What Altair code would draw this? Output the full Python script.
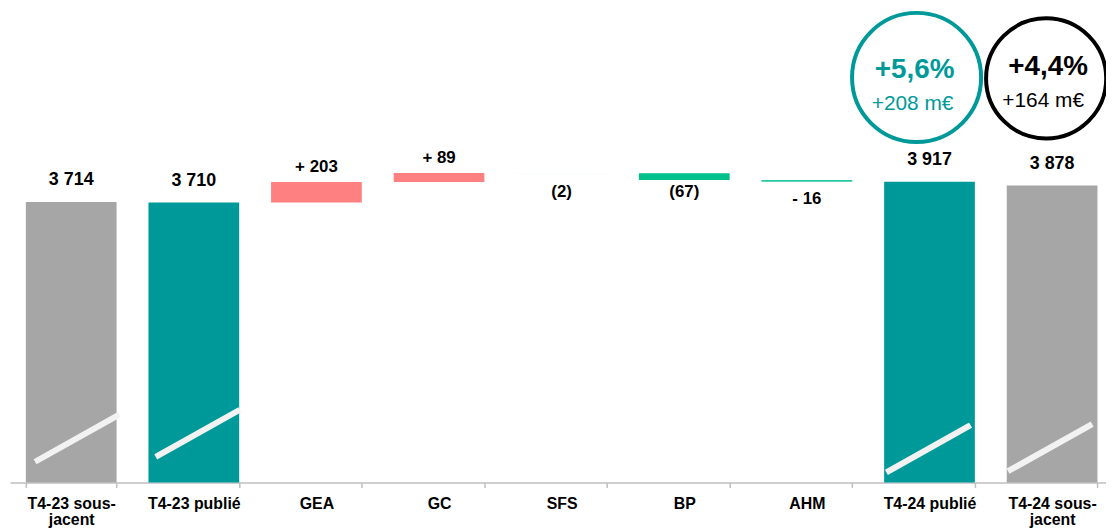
import altair as alt
import pandas as pd

# ---- data ----
categories = ["T4-23 sous-jacent", "T4-23 publié", "GEA", "GC", "SFS", "BP", "AHM",
              "T4-24 publié", "T4-24 sous-jacent"]
kinds = ["total", "total", "delta", "delta", "delta", "delta", "delta", "total", "total"]
values = [3714, 3710, 203, 89, -2, -67, -16, 3917, 3878]
labels = ["3 714", "3 710", "+ 203", "+ 89", "(2)", "(67)", "- 16", "3 917", "3 878"]
colors = ["#a6a6a6", "#009999", "#ff8080", "#ff8080", "#dcf5ee", "#00c08b", "#26c6a0",
          "#009999", "#a6a6a6"]

# broken-axis slash marks (on total bars)
slash_cats = ["T4-23 sous-jacent", "T4-23 publié", "T4-24 publié", "T4-24 sous-jacent"]
slash_y = [1370, 1418, 1265, 1276]
slash_dx = [6, 4, -1, -2]          # shift from bar centre (px)

# circled annotations
ann_cats = ["T4-24 publié", "T4-24 sous-jacent"]
ann_circle_y = [4952, 4942]
ann_circle_dx = [-13, -6]          # shift from bar centre (px)
ann_size = [16900, 14641]
ann_color = ["#009999", "#000000"]
ann_pct = ["+5,6%", "+4,4%"]
ann_pct_y = [4942, 4979]
ann_pct_dx = [-15, -4]
ann_abs = ["+208 m€", "+164 m€"]
ann_abs_y = [4627, 4656]
ann_abs_dx = [-17, -9]

WIDTH = 1104
P_IN, P_OUT, ALIGN = 0.26, 0.0995, 0.65
STEP = WIDTH / (len(categories) - P_IN + 2 * P_OUT)
HALF_BAND = STEP * (1 - P_IN) / 2   # xOffset is measured from band start

# ---- waterfall table ----
rows = []
run = 0
for c, k, v, lab, col in zip(categories, kinds, values, labels, colors):
    if k == "total":
        start, end = 0, v
        run = v
    else:
        start, end = run, run + v
        run = end
    rows.append(dict(cat=c, kind=k, start=start, end=end, top=max(start, end),
                     bottom=min(start, end), label=lab, color=col, val=v))
df = pd.DataFrame(rows)

slash_df = pd.DataFrame(dict(cat=slash_cats, y=slash_y, dx=[d + HALF_BAND for d in slash_dx]))
ann_df = pd.DataFrame(dict(cat=ann_cats, cy=ann_circle_y,
                           cdx=[d + HALF_BAND for d in ann_circle_dx], size=ann_size,
                           color=ann_color, pct=ann_pct, pct_y=ann_pct_y,
                           pct_dx=[d + HALF_BAND for d in ann_pct_dx],
                           abs=ann_abs, abs_y=ann_abs_y,
                           abs_dx=[d + HALF_BAND for d in ann_abs_dx]))

FONT = "Liberation Sans"
xscale = alt.Scale(domain=categories, paddingInner=P_IN, paddingOuter=P_OUT, align=ALIGN)
yscale = alt.Scale(domain=[930.3, 5602.6], nice=False, zero=False)

x = alt.X("cat:N", scale=xscale, sort=categories, title=None,
          axis=alt.Axis(labelAngle=0, labelFont=FONT, labelFontSize=16, labelFontWeight="bold",
                        labelColor="#000000", tickBand="extent", tickColor="#bfbfbf",
                        tickSize=5, tickWidth=1.5, domainColor="#bfbfbf", domainWidth=1.5,
                        labelPadding=8, labelLineHeight=16,
                        labelExpr="indexof(datum.label, 'sous-') >= 0 ? [replace(datum.label, 'jacent', ''), 'jacent'] : datum.label"))
xs = alt.X("cat:N", scale=xscale, sort=categories)

base = alt.Chart(df)

bars = base.mark_bar(clip=True).encode(
    x=x,
    y=alt.Y("start:Q", scale=yscale, axis=None, title=None),
    y2="end:Q",
    color=alt.Color("color:N", scale=None),
)

total_lab = base.transform_filter("datum.kind == 'total'").mark_text(
    font=FONT, fontSize=18, fontWeight="bold", baseline="alphabetic", dy=-17, color="#000000"
).encode(x=xs, y=alt.Y("top:Q", scale=yscale), text="label:N")

pos_lab = base.transform_filter("datum.kind == 'delta' && datum.val > 0").mark_text(
    font=FONT, fontSize=17, fontWeight="bold", baseline="alphabetic", dy=-10, color="#000000"
).encode(x=xs, y=alt.Y("top:Q", scale=yscale), text="label:N")

neg_lab = base.transform_filter("datum.kind == 'delta' && datum.val < 0").mark_text(
    font=FONT, fontSize=17, fontWeight="bold", baseline="alphabetic", dy=24, color="#000000"
).encode(x=xs, y=alt.Y("top:Q", scale=yscale), text="label:N")

slashes = alt.Chart(slash_df).mark_point(
    shape="M-1,0.56L1,-0.56", filled=False, stroke="#f2f2f2", strokeWidth=6, size=7191, opacity=1
).encode(
    x=xs,
    xOffset=alt.XOffset("dx:Q", scale=None),
    y=alt.Y("y:Q", scale=yscale),
)

circles = alt.Chart(ann_df).mark_point(shape="circle", filled=False, strokeWidth=4, opacity=1).encode(
    x=xs,
    xOffset=alt.XOffset("cdx:Q", scale=None),
    y=alt.Y("cy:Q", scale=yscale),
    size=alt.Size("size:Q", scale=None),
    stroke=alt.Stroke("color:N", scale=None),
)

pct_text = alt.Chart(ann_df).mark_text(font=FONT, fontSize=28, fontWeight="bold", baseline="alphabetic").encode(
    x=xs,
    xOffset=alt.XOffset("pct_dx:Q", scale=None),
    y=alt.Y("pct_y:Q", scale=yscale),
    text="pct:N",
    color=alt.Color("color:N", scale=None),
)

abs_text = alt.Chart(ann_df).mark_text(font=FONT, fontSize=21, baseline="alphabetic").encode(
    x=xs,
    xOffset=alt.XOffset("abs_dx:Q", scale=None),
    y=alt.Y("abs_y:Q", scale=yscale),
    text="abs:N",
    color=alt.Color("color:N", scale=None),
)

chart = alt.layer(bars, slashes, total_lab, pos_lab, neg_lab, circles, pct_text, abs_text).properties(
    width=WIDTH, height=474,
    padding={"left": 2, "top": 2, "right": 0, "bottom": 50},
    autosize=alt.AutoSizeParams(type="none"),
    background="#ffffff",
).configure_view(stroke=None)

chart.save("out.html", embed_options={"renderer": "svg", "actions": False})
